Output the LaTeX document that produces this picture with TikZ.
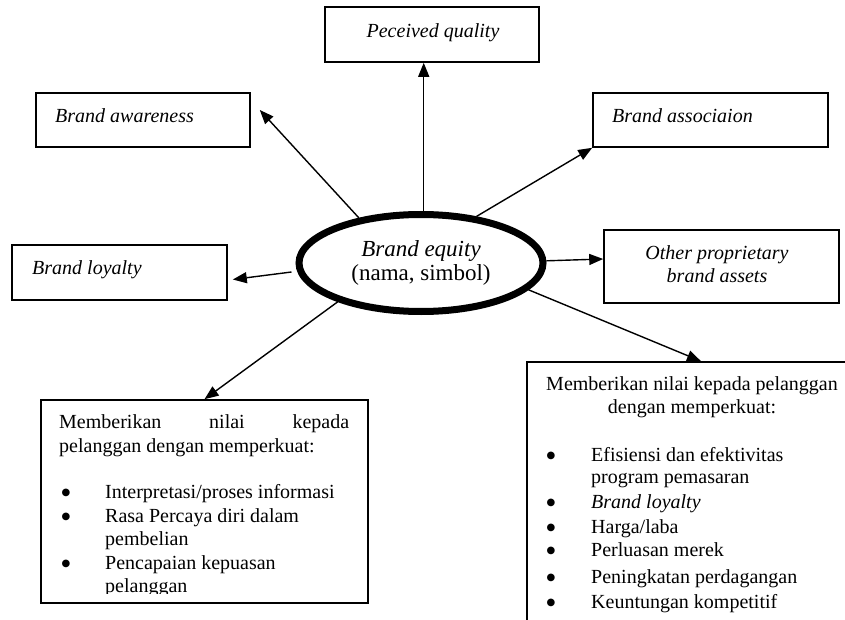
\documentclass[tikz,border=0pt]{standalone}
\usepackage{fontspec}
\setmainfont{Liberation Serif}
\newfontfamily\bulletfont{DejaVu Sans}
\usetikzlibrary{arrows.meta,shapes.geometric}
\begin{document}
\begin{tikzpicture}[x=1pt,y=-1pt,
  box/.style={draw, line width=1.6pt, rectangle, inner sep=0pt},
  arr/.style={line width=1.4pt, -{Triangle[length=14pt,width=11pt]}},
  lbl/.style={inner sep=0pt, font=\fontsize{20}{24}\selectfont},
  bul/.style={inner sep=0pt, anchor=base west, font=\bulletfont\fontsize{10}{12}\selectfont},
  eqs/.style={draw, ellipse, line width=7pt, inner sep=0pt, minimum width=244pt,
    minimum height=97pt, align=center, font=\fontsize{23}{24}\selectfont}]
\useasboundingbox (0,0) rectangle (845,620);
\clip (0,0) rectangle (845,620);
% boxes
\node[box, minimum width=214pt, minimum height=55pt] (pq) at (432,34.5) {};
\node[box, minimum width=214pt, minimum height=54pt] (aw) at (143,120) {};
\node[box, minimum width=235pt, minimum height=54pt] (as) at (710.5,120) {};
\node[box, minimum width=215pt, minimum height=55pt] (lo) at (119.5,272.5) {};
\node[box, minimum width=235pt, minimum height=73pt] (ot) at (721.5,266.5) {};
\node[box, minimum width=327pt, minimum height=203pt] (lb) at (204.5,501.5) {};
\node[box, minimum width=348pt, minimum height=258.5pt] (rb) at (701,491.25) {};
% central ellipse
\node[eqs] (eq) at (421,263) {\textit{Brand equity}\\(nama, simbol)};
% box labels
\node[lbl, anchor=base] (tpq) at (433,38) {\textit{Peceived quality}};
\node[lbl, anchor=base west] (taw) at (55,123) {\textit{Brand awareness}};
\node[lbl, anchor=base west] (tas) at (612,123) {\textit{Brand associaion}};
\node[lbl, anchor=base] (tot1) at (717,259) {\textit{Other proprietary}};
\node[lbl, anchor=base] (tot2) at (717,282) {\textit{brand assets}};
\node[lbl, anchor=base west] (tlo) at (32,274) {\textit{Brand loyalty}};
% left bottom box text
\begin{scope}
\clip (41,400) rectangle (368,593);
\node[lbl, anchor=base west] (l1) at (59,428.5) {\hbox to 290pt{Memberikan\hfill nilai\hfill kepada}};
\node[lbl, anchor=base west] (l2) at (59,452.5) {pelanggan dengan memperkuat:};
\node[bul] (lb1) at (61.5,495.5) {●};
\node[lbl, anchor=base west] (l3) at (105,498.5) {Interpretasi/proses informasi};
\node[bul] (lb2) at (61.5,519) {●};
\node[lbl, anchor=base west] (l4) at (105,522) {Rasa Percaya diri dalam};
\node[lbl, anchor=base west] (l5) at (105,545) {pembelian};
\node[bul] (lb3) at (61.5,566) {●};
\node[lbl, anchor=base west] (l6) at (105,569) {Pencapaian kepuasan};
\node[lbl, anchor=base west] (l7) at (105,592) {pelanggan};
\end{scope}
% right bottom box text
\begin{scope}
\clip (527,362) rectangle (845,612);
\node[lbl, anchor=base] (r1) at (692,390.5) {Memberikan nilai kepada pelanggan};
\node[lbl, anchor=base] (r2) at (692,413) {dengan memperkuat:};
\node[bul] (rb1) at (546.5,458.5) {●};
\node[lbl, anchor=base west] (r3) at (591,461.5) {Efisiensi dan efektivitas};
\node[lbl, anchor=base west] (r4) at (591,483) {program pemasaran};
\node[bul] (rb2) at (546.5,505) {●};
\node[lbl, anchor=base west] (r5) at (591,508) {\textit{Brand loyalty}};
\node[bul] (rb3) at (546.5,530) {●};
\node[lbl, anchor=base west] (r6) at (591,533) {Harga/laba};
\node[bul] (rb4) at (546.5,553.5) {●};
\node[lbl, anchor=base west] (r7) at (591,556.5) {Perluasan merek};
\node[bul] (rb5) at (546.5,580) {●};
\node[lbl, anchor=base west] (r8) at (591,583) {Peningkatan perdagangan};
\node[bul] (rb6) at (546.5,605) {●};
\node[lbl, anchor=base west] (r9) at (591,608) {Keuntungan kompetitif};
\end{scope}
% connectors
\draw[arr] (eq.87) -- (eq.87 |- pq.south);
\draw[arr] (eq.144) -- ([shift={(9,-10)}]aw.east);
\draw[arr] (eq.40) -- (as.south west);
\draw[arr] (eq.1) -- ([shift={(0,-7.5)}]ot.west);
\draw[arr] ([shift={(-4,9)}]eq.west) -- ([shift={(5,7)}]lo.east);
\draw[arr] (eq.205) -- (lb.north);
\draw[arr] (eq.-14) -- (rb.north);
\end{tikzpicture}
\end{document}
